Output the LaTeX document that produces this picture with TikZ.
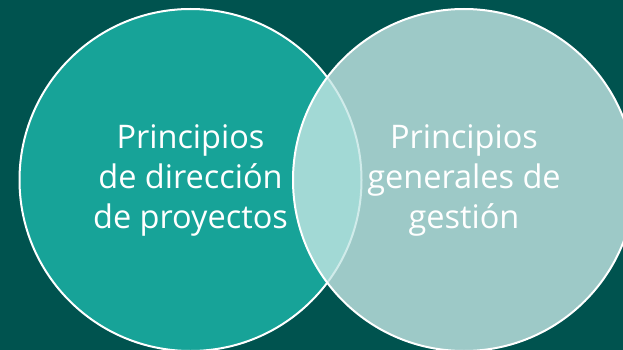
\documentclass[tikz,border=0pt]{standalone}
\usepackage{fontspec}
\setmainfont{Open Sans}
\definecolor{bgteal}{RGB}{0,83,79}
\definecolor{leftteal}{RGB}{23,163,152}
\definecolor{rightteal}{RGB}{197,231,229}
\tikzset{
  venn/.style={circle, draw=white, line width=2pt, minimum size=342pt,
    inner sep=0pt, align=center, text=white,
    font=\fontsize{32.5}{40}\selectfont},
}
\begin{document}
\begin{tikzpicture}[x=1pt,y=-1pt]
\fill[bgteal] (0,0) rectangle (623,350);
\useasboundingbox (0,0) rectangle (623,350);
\clip (0,0) rectangle (623,350);
\node[venn, fill=leftteal] (direccion) at (190.5,180) {Principios\\de dirección\\de proyectos};
\node[venn, fill=rightteal, fill opacity=0.8, text opacity=1] (gestion) at (464,180) {Principios\\generales de\\gestión};
\end{tikzpicture}
\end{document}
